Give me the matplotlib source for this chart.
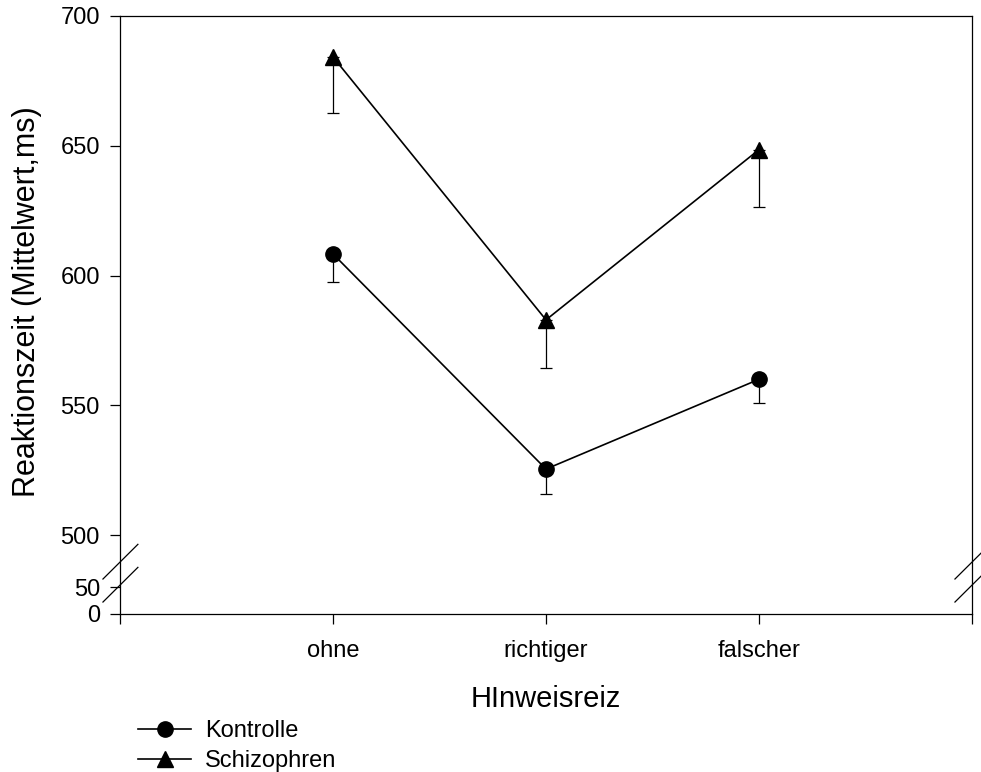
import numpy as np
import matplotlib.pyplot as plt
from matplotlib.lines import Line2D

plt.rcParams['font.family'] = ['Liberation Sans', 'DejaVu Sans']

# data
categories = ['ohne', 'richtiger', 'falscher']
kontrolle = [608.3, 525.4, 560.0]
kontrolle_err = [10.8, 9.6, 9.3]
schizo = [684.2, 582.9, 648.5]
schizo_err = [21.6, 18.5, 22.2]

# broken y scale: 0-50 squeezed, gap, 500-700 stretched
y_data = [0, 50, 500, 700]
y_disp = [0, 27, 79, 598]

def fwd(y):
    return np.interp(y, y_data, y_disp)

def inv(u):
    return np.interp(u, y_disp, y_data)

fig = plt.figure(figsize=(9.81, 7.72), dpi=100)
ax = fig.add_axes([120 / 981, 1 - 614 / 772, 852 / 981, 598 / 772])
ax.set_yscale('function', functions=(fwd, inv))

x = np.arange(1, len(categories) + 1)

ax.errorbar(x, kontrolle, yerr=[kontrolle_err, np.zeros(3)], fmt='none',
            ecolor='black', elinewidth=0.9, capsize=4.5, capthick=0.9, zorder=2)
ax.errorbar(x, schizo, yerr=[schizo_err, np.zeros(3)], fmt='none',
            ecolor='black', elinewidth=0.9, capsize=4.5, capthick=0.9, zorder=2)
ax.plot(x, kontrolle, color='black', lw=1.2, marker='o', ms=11, zorder=3,
        label='Kontrolle')
ax.plot(x, schizo, color='black', lw=1.2, marker='^', ms=11, zorder=3,
        label='Schizophren')

ax.set_xlim(0, 4)
ax.set_ylim(0, 700)
ax.set_xticks([0, 1, 2, 3, 4])
ax.set_xticklabels([''] + categories + [''])
ax.set_yticks([0, 50, 500, 550, 600, 650, 700])
ax.tick_params(direction='out', length=7.5, width=0.9, labelsize=17)
ax.tick_params(axis='y', pad=7)
ax.tick_params(axis='x', pad=11)
for sp in ax.spines.values():
    sp.set_linewidth(0.9)

ax.set_xlabel('HInweisreiz', fontsize=21, labelpad=17)
ax.set_ylabel('Reaktionszeit (Mittelwert,ms)', fontsize=22)
ax.yaxis.set_label_coords(-0.0915, 0.522)

# axis break marks
for x0 in (0.0, 1.0):
    for yb in (0.02, 0.0585):
        ax.add_line(Line2D([x0 - 0.02, x0 + 0.021], [yb, yb + 0.058],
                           transform=ax.transAxes, color='black', lw=0.9,
                           clip_on=False))

fig.legend(loc='upper left', bbox_to_anchor=(138 / 981, 1 - 720 / 772),
           frameon=False, fontsize=17, handlelength=2.25, handletextpad=0.6,
           labelspacing=0.35, borderpad=0, borderaxespad=0)

fig.savefig('out.png', dpi=100)
